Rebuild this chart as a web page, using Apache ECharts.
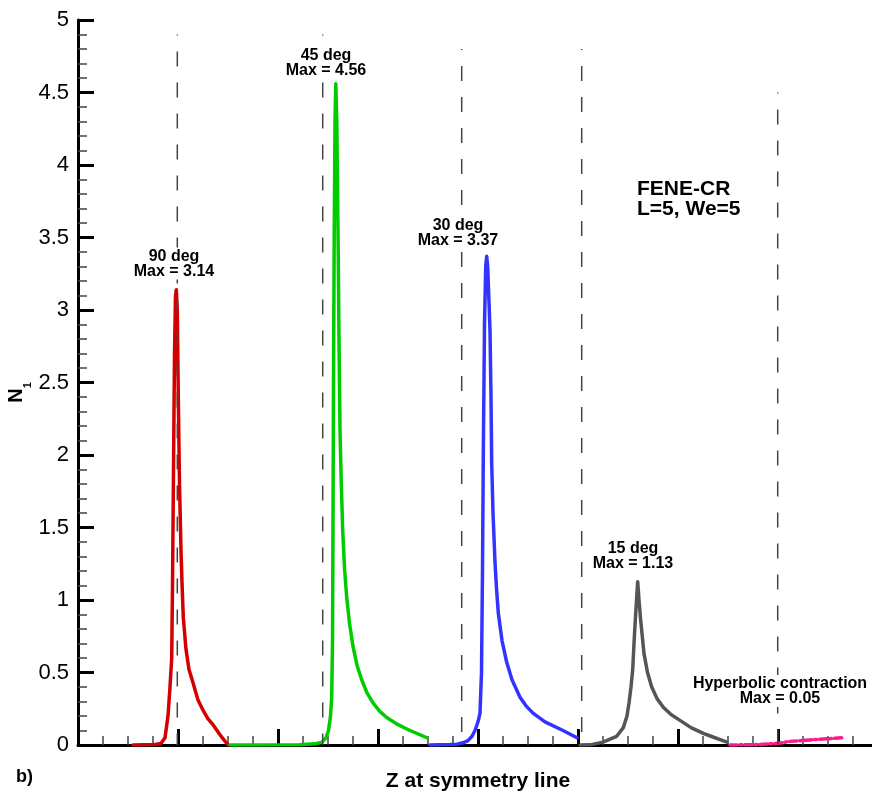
<!DOCTYPE html>
<html>
<head>
<meta charset="utf-8">
<script src="https://cdn.jsdelivr.net/npm/echarts@6/dist/echarts.min.js"></script>
<style>
  html, body { margin: 0; padding: 0; background: #fff; }
  #chart { width: 872px; height: 799px; }
</style>
</head>
<body>
<div id="chart"></div>
<script>
// curves (x in major-tick units, y = N1)
var redX = [0.55, 0.77, 0.83, 0.87, 0.90, 0.92, 0.937, 0.945, 0.955, 0.965, 0.975, 0.983, 0.993, 1.003, 1.015, 1.03, 1.04, 1.053, 1.08, 1.11, 1.15, 1.20, 1.25, 1.30, 1.35, 1.42, 1.50];
var redY = [0, 0.003, 0.01, 0.05, 0.2, 0.4, 0.6, 1.1, 1.9, 2.7, 3.1, 3.14, 3.0, 2.4, 1.8, 1.34, 1.12, 0.88, 0.66, 0.52, 0.43, 0.31, 0.24, 0.18, 0.14, 0.07, 0];

var greenX = [1.52, 2.22, 2.37, 2.44, 2.48, 2.505, 2.525, 2.537, 2.545, 2.55, 2.555, 2.562, 2.57, 2.578, 2.588, 2.60, 2.61, 2.62, 2.633, 2.647, 2.665, 2.687, 2.715, 2.75, 2.79, 2.837, 2.89, 2.95, 3.02, 3.087, 3.20, 3.32, 3.49];
var greenY = [0, 0.002, 0.008, 0.02, 0.05, 0.1, 0.2, 0.33, 0.7, 1.5, 2.5, 3.5, 4.3, 4.56, 4.3, 3.55, 2.8, 2.17, 1.8, 1.48, 1.22, 1.02, 0.84, 0.68, 0.55, 0.45, 0.36, 0.29, 0.23, 0.19, 0.14, 0.1, 0.05];

var blueX = [3.52, 3.72, 3.79, 3.85, 3.90, 3.94, 3.97, 4.00, 4.02, 4.035, 4.045, 4.053, 4.065, 4.077, 4.087, 4.097, 4.11, 4.12, 4.13, 4.137, 4.15, 4.17, 4.185, 4.203, 4.24, 4.287, 4.34, 4.42, 4.48, 4.55, 4.67, 4.85, 4.99];
var blueY = [0, 0.003, 0.006, 0.015, 0.03, 0.06, 0.1, 0.16, 0.22, 0.5, 1.2, 2.0, 2.9, 3.3, 3.37, 3.3, 3.05, 2.86, 2.4, 1.94, 1.6, 1.26, 1.08, 0.91, 0.72, 0.57, 0.45, 0.33, 0.27, 0.22, 0.16, 0.1, 0.05];

var grayX = [5.02, 5.12, 5.25, 5.32, 5.387, 5.453, 5.49, 5.51, 5.53, 5.547, 5.56, 5.573, 5.587, 5.597, 5.61, 5.627, 5.66, 5.695, 5.737, 5.79, 5.853, 5.93, 6.02, 6.13, 6.253, 6.37, 6.49];
var grayY = [0, 0.001, 0.02, 0.04, 0.06, 0.12, 0.2, 0.29, 0.4, 0.52, 0.7, 0.86, 1.02, 1.126, 1.0, 0.86, 0.63, 0.5, 0.4, 0.32, 0.26, 0.21, 0.17, 0.12, 0.08, 0.05, 0.02];

var pinkX = [6.52, 6.82, 7.00, 7.12, 7.32, 7.65];
var pinkY = [0, 0.003, 0.012, 0.025, 0.035, 0.05];

// vertical dashed reference lines
var guideX = [0.993, 2.447, 3.837, 5.037, 6.997];
var guideTop = [4.9, 4.9, 4.8, 4.8, 4.5];

// annotations
var noteText = ['90 deg\nMax = 3.14', '45 deg\nMax = 4.56', '30 deg\nMax = 3.37', '15 deg\nMax = 1.13', 'Hyperbolic contraction\nMax = 0.05'];
var noteX = [0.96, 2.48, 3.80, 5.55, 7.02];
var noteY = [3.32, 4.70, 3.53, 1.30, 0.372];

var FONT = '"Liberation Sans", Arial, Helvetica, sans-serif';

function zip(xs, ys) {
    var out = [];
    for (var i = 0; i < xs.length; i++) out.push([xs[i], ys[i]]);
    return out;
}

function curve(xs, ys, color, type) {
    return {
        type: 'line',
        data: zip(xs, ys),
        showSymbol: false,
        symbol: 'none',
        z: 3,
        lineStyle: { color: color, width: 3.5, type: type || 'solid', cap: 'round', join: 'round' }
    };
}

var series = [
    curve(redX, redY, '#d40000'),
    curve(greenX, greenY, '#00cc00'),
    curve(blueX, blueY, '#3333ff'),
    curve(grayX, grayY, '#555555'),
    curve(pinkX, pinkY, '#ff1a8c', [7, 3, 2, 3])
];

for (var i = 0; i < guideX.length; i++) {
    series.push({
        type: 'line',
        data: [[guideX[i], guideTop[i]], [guideX[i], 0]],
        showSymbol: false,
        symbol: 'none',
        z: 4,
        lineStyle: { color: '#444', width: 1.5, type: [15, 16], dashOffset: 14 }
    });
}

var notes = [];
for (var j = 0; j < noteText.length; j++) {
    notes.push({ value: [noteX[j], noteY[j]], txt: noteText[j] });
}
series.push({
    type: 'scatter',
    data: notes,
    symbolSize: 0,
    z: 6,
    silent: true,
    itemStyle: { opacity: 1 },
    label: {
        show: true,
        position: 'inside',
        formatter: function (p) { return p.data.txt; },
        fontFamily: FONT,
        fontSize: 16,
        fontWeight: 'bold',
        lineHeight: 15,
        color: '#000',
        opacity: 1,
        align: 'center',
        backgroundColor: '#fff',
        padding: [1, 2]
    }
});

var chart = echarts.init(document.getElementById('chart'));
chart.setOption({
    animation: false,
    backgroundColor: '#fff',
    title: [{
        text: 'FENE-CR\nL=5, We=5',
        left: 637,
        top: 179,
        padding: 0,
        textStyle: { fontFamily: FONT, fontSize: 21, fontWeight: 'bold', lineHeight: 20, color: '#000' }
    }, {
        text: 'b)',
        left: 16,
        top: 768,
        padding: 0,
        textStyle: { fontFamily: FONT, fontSize: 18, fontWeight: 'bold', color: '#000' }
    }],
    grid: { left: 78, right: -6, top: 20, bottom: 54, outerBoundsMode: 'none', containLabel: false },
    xAxis: {
        type: 'value',
        min: 0,
        max: 8,
        interval: 1,
        name: 'Z at symmetry line',
        nameLocation: 'middle',
        nameGap: 26,
        nameMoveOverlap: false,
        nameTextStyle: { fontFamily: FONT, fontSize: 21, fontWeight: 'bold', color: '#000' },
        axisLine: { show: true, onZero: false, lineStyle: { color: '#000', width: 3 } },
        axisTick: { show: true, inside: true, length: 16, lineStyle: { color: '#000', width: 3 } },
        minorTick: { show: true, splitNumber: 4, length: 9, lineStyle: { color: '#444', width: 1.5 } },
        axisLabel: { show: false },
        splitLine: { show: false }
    },
    yAxis: {
        type: 'value',
        min: 0,
        max: 5,
        interval: 0.5,
        name: '{a|N}{b|1}',
        nameLocation: 'middle',
        nameRotate: 90,
        nameGap: 45,
        nameMoveOverlap: false,
        nameTextStyle: {
            fontFamily: FONT,
            color: '#000',
            padding: [0, 20, 0, 0],
            rich: {
                a: { fontFamily: FONT, fontSize: 20, fontWeight: 'bold', color: '#000', verticalAlign: 'top', lineHeight: 20 },
                b: { fontFamily: FONT, fontSize: 11, fontWeight: 'bold', color: '#000', verticalAlign: 'bottom', lineHeight: 27 }
            }
        },
        axisLine: { show: true, onZero: false, lineStyle: { color: '#000', width: 3 } },
        axisTick: { show: true, inside: true, length: 16, lineStyle: { color: '#000', width: 3 } },
        minorTick: { show: true, splitNumber: 5, length: 9, lineStyle: { color: '#444', width: 1.5 } },
        axisLabel: { fontFamily: FONT, fontSize: 22, color: '#000', margin: 9 },
        splitLine: { show: false }
    },
    series: series
});
</script>
</body>
</html>
